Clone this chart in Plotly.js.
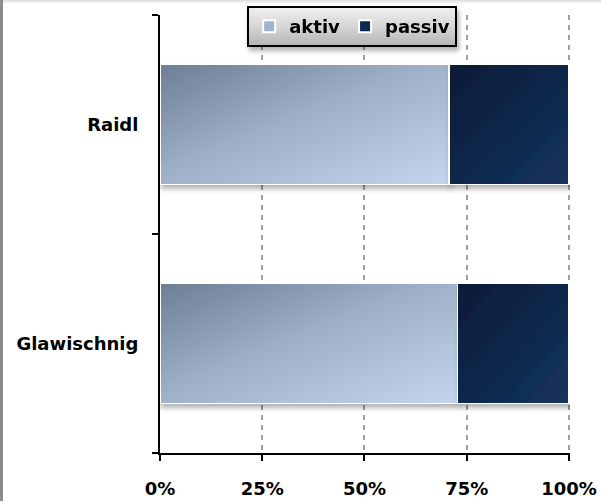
<!DOCTYPE html>
<html>
<head>
<meta charset="utf-8">
<script src="https://cdn.plot.ly/plotly-3.0.1.min.js"></script>
<style>
  html, body { margin: 0; padding: 0; background: #fff; }
  #wrap { position: relative; width: 601px; height: 501px; overflow: hidden; }
  #chart { position: absolute; left: 0; top: 0; width: 601px; height: 501px; }
  #lstripe { position: absolute; left: 0; top: 0; width: 3px; height: 501px; background: #8c8c8c; z-index: 5; }
  #tstripe { position: absolute; left: 0; top: 0; width: 601px; height: 3px; background: linear-gradient(#dcdcdc, #f4f4f4); z-index: 4; }
</style>
</head>
<body>
<div id="wrap">
  <div id="chart"></div>
  <div id="lstripe"></div>
  <div id="tstripe"></div>
</div>
<script>
// Data
const categories = ['Glawischnig', 'Raidl'];
const aktiv = [72.8, 70.7];
const passiv = [27.2, 29.3];
const seriesNames = ['aktiv', 'passiv'];
const tickVals = [0, 25, 50, 75, 100];
const tickText = ['0%', '25%', '50%', '75%', '100%'];

const FONT = 'DejaVu Sans, Verdana, sans-serif';

const traces = [
  {
    type: 'bar', orientation: 'h', name: seriesNames[0],
    y: categories, x: aktiv,
    marker: { color: '#a2b4cb', line: { color: '#ffffff', width: 1.5 } },
    hoverinfo: 'none'
  },
  {
    type: 'bar', orientation: 'h', name: seriesNames[1],
    y: categories, x: passiv,
    marker: { color: '#0f2a52', line: { color: '#ffffff', width: 1.5 } },
    hoverinfo: 'none'
  }
];

const layout = {
  width: 601, height: 501,
  margin: { l: 160, r: 31, t: 15, b: 48, pad: 0, autoexpand: false },
  paper_bgcolor: '#ffffff', plot_bgcolor: '#ffffff',
  barmode: 'stack',
  bargap: 0.45,
  font: { family: FONT, size: 14, color: '#000' },
  showlegend: true,
  legend: {
    orientation: 'h',
    xref: 'container', yref: 'container',
    x: 0.586, xanchor: 'center',
    y: 0.988, yanchor: 'top',
    bgcolor: '#d4d4d4', bordercolor: '#000', borderwidth: 2,
    font: { family: FONT, size: 18, color: '#000', weight: 'bold' },
    traceorder: 'normal',
    itemwidth: 30
  },
  xaxis: {
    range: [0, 100.25],
    automargin: false,
    tickmode: 'array', tickvals: tickVals, ticktext: tickText,
    showgrid: true, gridcolor: '#a0a0a0', gridwidth: 2, griddash: '5px,5px',
    zeroline: false,
    showline: true, linecolor: '#000', linewidth: 2,
    ticks: 'outside', ticklen: 6, tickwidth: 2, tickcolor: '#000',
    tickfont: { family: FONT, size: 18, color: '#000', weight: 'bold' },
    ticklabelstandoff: 12,
    fixedrange: true
  },
  yaxis: {
    type: 'category',
    automargin: false,
    showgrid: false, zeroline: false,
    showline: true, linecolor: '#000', linewidth: 2,
    ticks: 'outside', ticklen: 6, tickwidth: 2, tickcolor: '#000',
    tickson: 'boundaries',
    tickfont: { family: FONT, size: 18, color: '#000', weight: 'bold' },
    ticklabelstandoff: 16,
    fixedrange: true
  }
};

Plotly.newPlot('chart', traces, layout, { displayModeBar: false, staticPlot: true }).then(function (gd) {
  const svgNS = 'http://www.w3.org/2000/svg';
  const svg = gd.querySelector('svg.main-svg');
  let defs = svg.querySelector('defs');
  if (!defs) { defs = document.createElementNS(svgNS, 'defs'); svg.insertBefore(defs, svg.firstChild); }
  function grad(id, stops, vertical) {
    const g = document.createElementNS(svgNS, 'linearGradient');
    g.setAttribute('id', id);
    g.setAttribute('x1', '0'); g.setAttribute('y1', '0');
    g.setAttribute('x2', vertical ? '0' : '1'); g.setAttribute('y2', '1');
    stops.forEach(function (s) {
      const st = document.createElementNS(svgNS, 'stop');
      st.setAttribute('offset', s[0]); st.setAttribute('stop-color', s[1]);
      g.appendChild(st);
    });
    defs.appendChild(g);
  }
  grad('gAktiv', [['0', '#6e7e93'], ['0.45', '#9cafc6'], ['1', '#c3d6ee']]);
  grad('gPassiv', [['0', '#0a1b36'], ['1', '#14345f']]);
  grad('gLegend', [['0', '#f0f0f0'], ['0.5', '#d6d6d6'], ['1', '#b4b4b4']], true);
  const f = document.createElementNS(svgNS, 'filter');
  f.setAttribute('id', 'barShadow');
  f.setAttribute('x', '-5%'); f.setAttribute('y', '-5%');
  f.setAttribute('width', '115%'); f.setAttribute('height', '130%');
  const ds = document.createElementNS(svgNS, 'feDropShadow');
  ds.setAttribute('dx', '2'); ds.setAttribute('dy', '4');
  ds.setAttribute('stdDeviation', '2.5');
  ds.setAttribute('flood-color', '#000'); ds.setAttribute('flood-opacity', '0.3');
  f.appendChild(ds);
  defs.appendChild(f);

  const traceGroups = gd.querySelectorAll('.barlayer .trace');
  traceGroups.forEach(function (tg, i) {
    tg.setAttribute('filter', 'url(#barShadow)');
    tg.querySelectorAll('path').forEach(function (p) {
      p.style.fill = i === 0 ? 'url(#gAktiv)' : 'url(#gPassiv)';
    });
  });
  const lg = gd.querySelector('.legend');
  if (lg) {
    lg.setAttribute('filter', 'url(#barShadow)');
    const bg = lg.querySelector('rect.bg');
    if (bg) bg.style.fill = 'url(#gLegend)';
    lg.querySelectorAll('.legendpoints path').forEach(function (p) {
      p.style.stroke = '#ffffff';
      p.style.strokeWidth = '2px';
    });
  }
});
</script>
</body>
</html>
